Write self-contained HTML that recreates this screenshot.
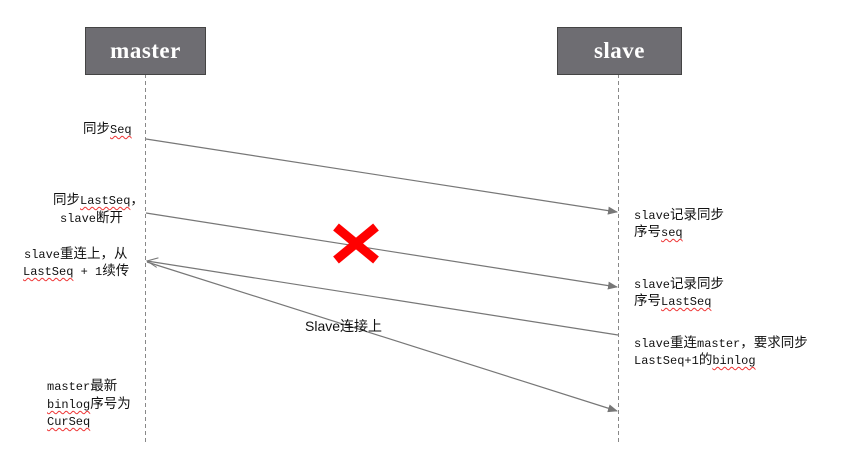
<!DOCTYPE html>
<html><head><meta charset="utf-8"><style>
body{margin:0;width:846px;height:457px;background:#fff;position:relative;overflow:hidden;font-family:"Noto Sans CJK SC",sans-serif;font-size:13.5px;color:#111}
.t{position:absolute;white-space:nowrap;line-height:17px}
i{font-style:normal;font-family:"Liberation Mono",monospace;font-size:12px}
u{text-decoration:underline wavy #e33;text-decoration-thickness:1px;text-underline-offset:2px;font-style:normal;font-family:"Liberation Mono",monospace;font-size:12px}
.box{position:absolute;background:#6e6d72;border:1px solid #444;color:#fff;font-family:"Liberation Serif",serif;font-weight:bold;font-size:23px;letter-spacing:0.5px;text-align:center;line-height:45px}
</style></head><body>
<svg width="846" height="457" style="position:absolute;left:0;top:0">
<defs>
<marker id="f" markerWidth="10" markerHeight="8" refX="9" refY="4" orient="auto" markerUnits="userSpaceOnUse"><path d="M0,0 L10,4 L0,8 z" fill="#777"/></marker>
<marker id="o" markerWidth="12" markerHeight="10" refX="11" refY="5" orient="auto" markerUnits="userSpaceOnUse"><path d="M0,0 L11,5 L0,10" fill="none" stroke="#777" stroke-width="1"/></marker>
</defs>
<g stroke="#888" stroke-dasharray="4,3" stroke-width="1">
<line x1="145.5" y1="74" x2="145.5" y2="442"/>
<line x1="618.5" y1="74" x2="618.5" y2="442"/>
</g>
<g stroke="#777" stroke-width="1.2" fill="none">
<line x1="146" y1="139" x2="617" y2="212" marker-end="url(#f)"/>
<line x1="146" y1="213" x2="617" y2="287" marker-end="url(#f)"/>
<line x1="618" y1="335" x2="147" y2="261" marker-end="url(#o)"/>
<line x1="147" y1="262" x2="617" y2="411" marker-end="url(#f)"/>
</g>
<g stroke="#ff0000" stroke-width="9">
<line x1="336" y1="227" x2="376" y2="260"/>
<line x1="376" y1="227" x2="336" y2="260"/>
</g>
</svg>
<div class="box" style="left:85px;top:27px;width:119px;height:46px">master</div>
<div class="box" style="left:557px;top:27px;width:123px;height:46px">slave</div>

<div class="t" style="left:83px;top:119px">同步<u>Seq</u></div>
<div class="t" style="left:53px;top:190px">同步<u>LastSeq</u>，</div>
<div class="t" style="left:60px;top:208px"><i>slave</i>断开</div>
<div class="t" style="left:24px;top:244px"><i>slave</i>重连上，从</div>
<div class="t" style="left:23px;top:261px"><u>LastSeq</u><i> + 1</i>续传</div>
<div class="t" style="left:47px;top:376px"><i>master</i>最新</div>
<div class="t" style="left:47px;top:394px"><u>binlog</u>序号为</div>
<div class="t" style="left:47px;top:411px"><u>CurSeq</u></div>

<div class="t" style="left:634px;top:205px"><i>slave</i>记录同步</div>
<div class="t" style="left:634px;top:222px">序号<u>seq</u></div>
<div class="t" style="left:634px;top:274px"><i>slave</i>记录同步</div>
<div class="t" style="left:634px;top:291px">序号<u>LastSeq</u></div>
<div class="t" style="left:634px;top:333px"><i>slave</i>重连<i>master</i>，要求同步</div>
<div class="t" style="left:634px;top:350px"><i>LastSeq+1</i>的<u>binlog</u></div>

<div class="t" style="left:305px;top:318px;font-family:'Liberation Sans','Noto Sans CJK SC',sans-serif;font-size:14px">Slave连接上</div>
</body></html>
